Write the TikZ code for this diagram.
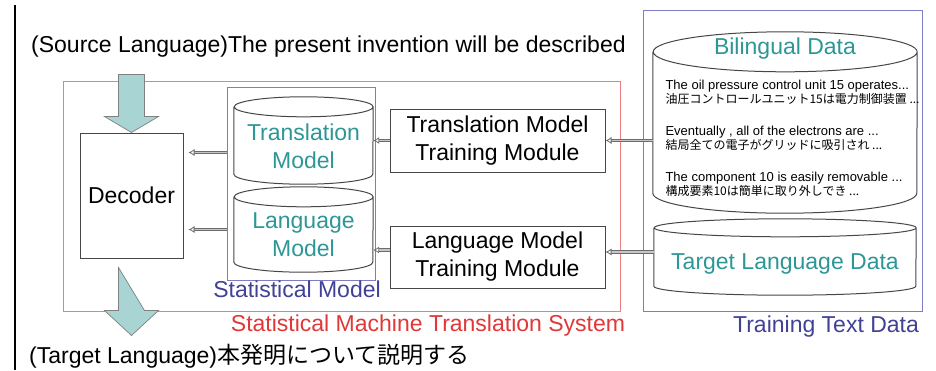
\documentclass[tikz,border=0pt]{standalone}
\usepackage{fontspec}
\setmainfont{Liberation Sans}
\newfontfamily\cjk{Noto Sans CJK JP}
\usetikzlibrary{calc,arrows.meta}

\definecolor{sysred}{RGB}{238,125,125}
\definecolor{sysredtext}{RGB}{225,55,55}
\definecolor{blueline}{RGB}{125,125,195}
\definecolor{bluetext}{RGB}{65,65,150}
\definecolor{tealtext}{RGB}{45,150,150}
\definecolor{arrowfill}{RGB}{168,212,212}
\definecolor{boxline}{RGB}{70,70,70}

\tikzset{
  bigfont/.style={font=\fontsize{23}{28}\selectfont},
  modbox/.style={bigfont,draw=boxline,line width=1pt,fill=white,align=center,inner sep=0pt},
  dbbox/.style={inner sep=0pt},
  dbtext/.style={bigfont,text=tealtext,align=center},
  cylline/.style={draw=boxline,line width=1pt},
  sysframe/.style={line width=.8pt,inner sep=0pt},
  conn/.style={draw=gray!85!black,double=gray!45,double distance=1.8pt,line width=.8pt,-{Latex[open,length=6pt,width=7pt]}},
  bigarrow/.style={draw=gray,fill=arrowfill,line width=.7pt},
}

\begin{document}
\begin{tikzpicture}[x=1pt,y=-1pt]
\useasboundingbox (0,0) rectangle (936,370);
\draw[line width=1.3pt] (15,5) -- (15,370);

% frames
\node[sysframe,draw=sysred,minimum width=557,minimum height=230] (sys) at (341.5,196) {};
\node[sysframe,draw=blueline,minimum width=279,minimum height=301] (train) at (782.5,160.5) {};
\node[sysframe,draw=blueline,minimum width=148,minimum height=193] (sm) at (301,183.5) {};
\node[bigfont,text=sysredtext] (syslabel) at (428,326) {Statistical Machine Translation System};
\node[bigfont,text=bluetext] (smlabel) at (297,289) {Statistical Model};
\node[bigfont,text=bluetext] (trainlabel) at (826,327) {Training Text Data};

% modules
\node[modbox,minimum width=103,minimum height=125] (dec) at (131.5,195.5) {Decoder};
\node[modbox,minimum width=215,minimum height=63] (tmtm) at (497.5,140.5) {Translation Model\\Training Module};
\node[modbox,minimum width=215,minimum height=62] (lmtm) at (497.5,257) {Language Model\\Training Module};

% data (cylinders)
\node[dbbox,minimum width=139,minimum height=87] (tm) at (303.5,140.5) {};
\node[dbbox,minimum width=139,minimum height=85] (lm) at (303.5,229.5) {};
\node[dbbox,minimum width=264,minimum height=181] (bd) at (785,122.5) {};
\node[dbbox,minimum width=262,minimum height=76] (tld) at (785,257) {};
\foreach \n/\rx/\ry in {tm/69.5/10,lm/69.5/10,bd/132/20,tld/131/9}{
  \draw[cylline] ($(\n.north west)+(0,\ry)$) -- ($(\n.south west)-(0,\ry)$)
    arc[start angle=180,end angle=0,x radius=\rx,y radius=\ry]
    -- ($(\n.north east)+(0,\ry)$)
    arc[start angle=0,end angle=-180,x radius=\rx,y radius=\ry]
    arc[start angle=180,end angle=0,x radius=\rx,y radius=\ry];
}
\node[dbtext] (tmname) at (303.5,146) {Translation\\Model};
\node[dbtext] (lmname) at (303.5,235) {Language\\Model};
\node[dbtext,fill=white,inner sep=2pt] (bdname) at (785,49) {Bilingual Data};
\node[dbtext] (tldname) at (785,264) {Target Language Data};
\node[align=left,anchor=west,font=\fontsize{13}{14}\selectfont] (bdtext) at (662,138) {The oil pressure control unit 15 operates...\\
{\cjk\fontsize{12}{14}\selectfont 油圧コントロールユニット15は電力制御装置 ...}\\[18pt]
Eventually , all of the electrons are ...\\
{\cjk\fontsize{12}{14}\selectfont 結局全ての電子がグリッドに吸引され ...}\\[18pt]
The component 10 is easily removable ...\\
{\cjk\fontsize{12}{14}\selectfont 構成要素10は簡単に取り外しでき ...}};

% connectors
\draw[conn] (bd.west |- tmtm.east) -- (tmtm.east);
\draw[conn] ([yshift=5pt]tld.west) -- ([yshift=5pt]lmtm.east);
\draw[conn] (tmtm.west) -- (tmtm.west -| tm.east);
\draw[conn] ([yshift=7pt]lmtm.west) -- ([yshift=7pt]lmtm.west -| lm.east);
\draw[conn,shorten >=5pt] ([yshift=-12pt]tm.west -| sm.west) -- ([yshift=-12pt]tm.west -| dec.east);
\draw[conn,shorten >=5pt] (lm.west -| sm.west) -- (lm.west -| dec.east);

% input and output
\node[bigfont,anchor=west,inner sep=0pt] (src) at (31,47) {(Source Language)The present invention will be described};
\node[bigfont,anchor=west,inner sep=0pt] (tgt) at (29,356) {(Target Language){\cjk 本発明について説明する}};
\draw[bigarrow] (dec.north) -- ++(-27,-16) -- ++(14,0) -- ++(0,-42) -- ++(26,0) -- ++(0,42) -- ++(14,0) -- cycle;
\draw[bigarrow] ([shift={(-13,9)}]dec.south) -- ++(0,43) -- ++(-14,0) -- ++(27,25) -- ++(27,-25) -- ++(-14,0) -- cycle;
\end{tikzpicture}
\end{document}
